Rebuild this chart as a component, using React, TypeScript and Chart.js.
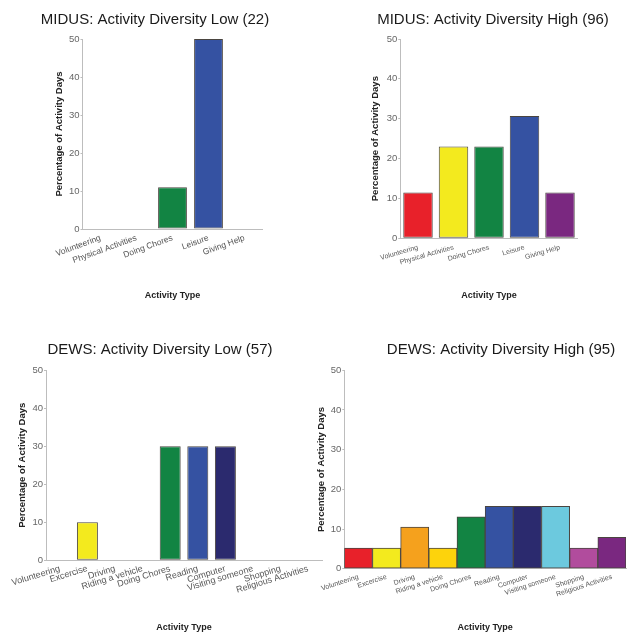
import React, { useEffect, useRef } from 'react';
import { Chart, registerables } from 'chart.js';

Chart.register(...registerables);
Chart.defaults.font.family = '"Liberation Sans", Arial, sans-serif';

const midusCategories = ['Volunteering', 'Physical Activities', 'Doing Chores', 'Leisure', 'Giving Help'];
const midusLowValues = [0, 0, 11, 50, 0];
const midusHighValues = [11.5, 23, 23, 30.7, 11.5];

const dewsCategories = [
  'Volunteering', 'Excercise', 'Driving', 'Riding a vehicle', 'Doing Chores',
  'Reading', 'Computer', 'Visiting someone', 'Shopping', 'Religious Activities',
];
const dewsLowValues = [0, 10, 0, 0, 30, 30, 30, 0, 0, 0];
const dewsHighValues = [5.2, 5.2, 10.5, 5.2, 13.1, 15.7, 15.7, 15.7, 5.2, 7.9];

const yTicks = [0, 10, 20, 30, 40, 50];

const midusColors = ['#E8212A', '#F3EA1E', '#128443', '#3552A2', '#7A2880'];
const dewsColors = [
  '#E8212A', '#F3EA1E', '#F5A11D', '#FDD30C', '#128443',
  '#3552A2', '#2B2A6E', '#6CC9DE', '#B14C9D', '#7A2880',
];

type Spec = {
  title: string;
  labels: string[];
  values: number[];
  colors: string[];
  x: number; y: number; w: number; h: number;
  titleX: number; titleY: number;
  padTop: number; padRight: number;
  yW: number; xH: number;
  yTitlePad: number; xTitlePad: number;
  rot: number; xFont: number; xPad: number;
  barPct: number;
};

const specs: Spec[] = [
  {
    title: 'MIDUS: Activity Diversity Low (22)', labels: midusCategories, values: midusLowValues, colors: midusColors,
    x: 0, y: 0, w: 316, h: 318, titleX: 155, titleY: 20,
    padTop: 39, padRight: 53.5, yW: 82.5, xH: 89, yTitlePad: 54, xTitlePad: 16.6,
    rot: 20, xFont: 8.5, xPad: -4, barPct: 0.8,
  },
  {
    title: 'MIDUS: Activity Diversity High (96)', labels: midusCategories, values: midusHighValues, colors: midusColors,
    x: 316, y: 0, w: 316, h: 318, titleX: 177, titleY: 20,
    padTop: 39, padRight: 54.25, yW: 84.25, xH: 79.7, yTitlePad: 54, xTitlePad: 16.6,
    rot: 16, xFont: 7, xPad: -3, barPct: 0.83,
  },
  {
    title: 'DEWS: Activity Diversity Low (57)', labels: dewsCategories, values: dewsLowValues, colors: dewsColors,
    x: 0, y: 318, w: 330, h: 318, titleX: 160, titleY: 31.5,
    padTop: 52.3, padRight: 8, yW: 46, xH: 75.7, yTitlePad: 16.6, xTitlePad: 2.6,
    rot: 17, xFont: 9, xPad: -5, barPct: 0.76,
  },
  {
    title: 'DEWS: Activity Diversity High (95)', labels: dewsCategories, values: dewsHighValues, colors: dewsColors,
    x: 300, y: 318, w: 332, h: 318, titleX: 201, titleY: 31.5,
    padTop: 52.3, padRight: 6, yW: 44.3, xH: 67.3, yTitlePad: 15.6, xTitlePad: 2.6,
    rot: 18, xFont: 7, xPad: -4, barPct: 1,
  },
];

function Panel({ spec }: { spec: Spec }) {
  const ref = useRef<HTMLCanvasElement>(null);
  useEffect(() => {
    if (!ref.current) return;
    const titlePlugin = {
      id: 'panelTitle',
      afterDraw(chart: any) {
        const ctx = chart.ctx;
        ctx.save();
        ctx.font = '15px "Liberation Sans", Arial, sans-serif';
        ctx.fillStyle = '#1a1a1a';
        ctx.textAlign = 'center';
        ctx.textBaseline = 'middle';
        ctx.fillText(spec.title, spec.titleX, spec.titleY);
        ctx.restore();
      },
    };
    const chart = new Chart(ref.current, {
      type: 'bar',
      data: {
        labels: spec.labels,
        datasets: [
          {
            data: spec.values,
            backgroundColor: spec.colors,
            borderColor: '#4a4540',
            borderWidth: (c: any) => (c.raw === 0 ? 0 : 1),
            borderSkipped: false,
            barPercentage: spec.barPct,
            categoryPercentage: 1,
          },
        ],
      },
      options: {
        animation: false,
        responsive: false,
        maintainAspectRatio: false,
        layout: { padding: { top: spec.padTop, right: spec.padRight, left: 0, bottom: 0 } },
        plugins: { legend: { display: false }, tooltip: { enabled: false }, title: { display: false } },
        scales: {
          x: {
            grid: { display: false },
            border: { display: true, color: '#bdbdbd', width: 1 },
            ticks: {
              autoSkip: false,
              minRotation: spec.rot,
              maxRotation: spec.rot,
              font: { size: spec.xFont },
              color: '#555',
              padding: spec.xPad,
            },
            title: {
              display: true,
              text: 'Activity Type',
              font: { size: 9, weight: 'bold' },
              color: '#222',
              padding: { top: 0, bottom: spec.xTitlePad },
            },
            afterFit: (s: any) => { s.height = spec.xH; },
          },
          y: {
            min: 0,
            max: 50,
            afterBuildTicks: (s: any) => { s.ticks = yTicks.map((v) => ({ value: v })); },
            ticks: { font: { size: 9.5 }, color: '#666', padding: 1 },
            grid: { drawOnChartArea: false, drawTicks: true, tickLength: 2, color: '#bdbdbd' },
            border: { display: true, color: '#bdbdbd', width: 1 },
            title: {
              display: true,
              text: 'Percentage of Activity Days',
              font: { size: 9.5, weight: 'bold' },
              color: '#222',
              padding: { top: spec.yTitlePad, bottom: 0 },
            },
            afterFit: (s: any) => { s.width = spec.yW; },
          },
        },
      },
      plugins: [titlePlugin],
    } as any);
    return () => chart.destroy();
  }, [spec]);
  return (
    <canvas
      ref={ref}
      width={spec.w}
      height={spec.h}
      style={{ position: 'absolute', left: spec.x, top: spec.y, width: spec.w, height: spec.h }}
    />
  );
}

export default function App() {
  return (
    <div style={{ position: 'absolute', left: 0, top: 0, width: 632, height: 636, background: '#fff', overflow: 'hidden' }}>
      {specs.map((s, i) => (
        <Panel key={i} spec={s} />
      ))}
    </div>
  );
}
